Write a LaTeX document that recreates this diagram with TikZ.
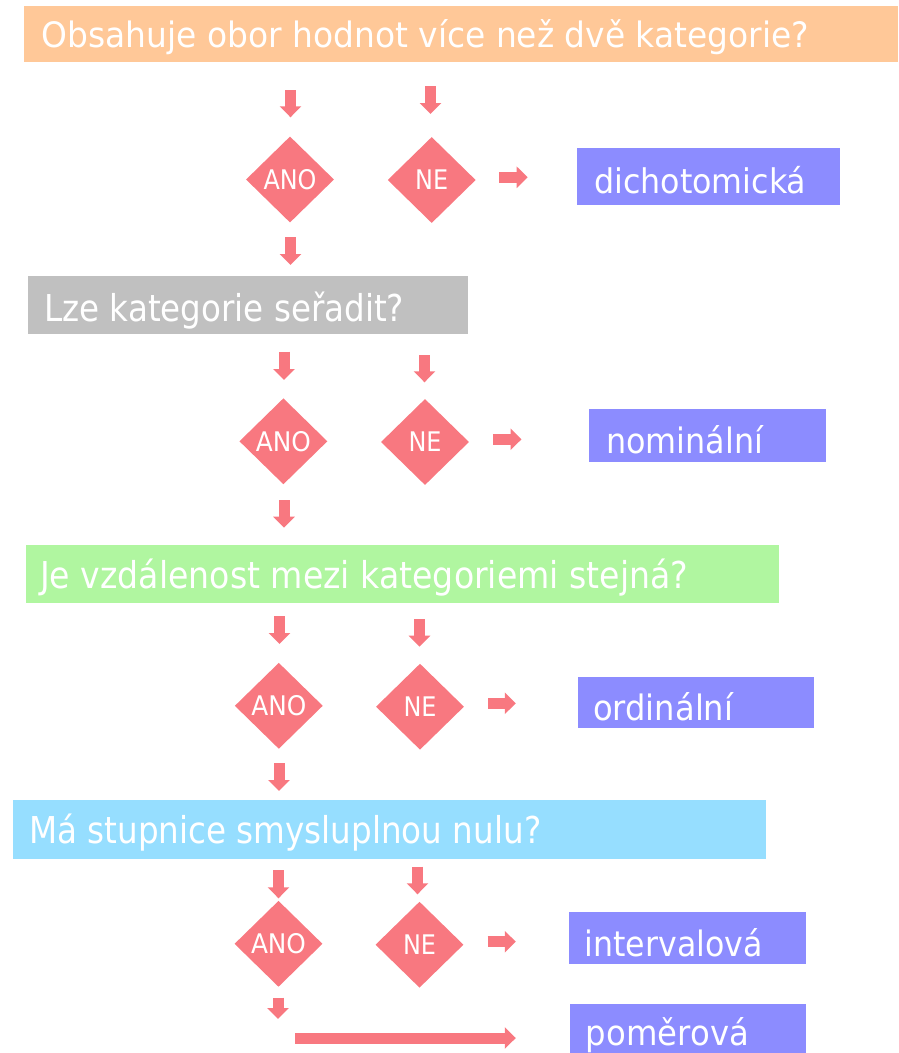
\documentclass[tikz,border=0pt]{standalone}
\usepackage{fontspec}
\setmainfont{DejaVu Sans}
\usepackage{graphicx}
\usetikzlibrary{shapes.geometric,arrows.meta}
\definecolor{qorange}{RGB}{255,200,152}
\definecolor{qgray}{RGB}{192,192,192}
\definecolor{qgreen}{RGB}{176,246,160}
\definecolor{qblue}{RGB}{150,222,255}
\definecolor{rpurple}{RGB}{140,140,255}
\definecolor{apink}{RGB}{248,120,128}
\newcommand{\fitw}[2]{\resizebox{#1pt}{\height}{#2}}
\tikzset{
  qbox/.style={rectangle, inner sep=0pt, draw=none},
  qtext/.style={anchor=base west, inner sep=0pt, text=white, font=\fontsize{37}{40}\selectfont},
  rtext/.style={anchor=base west, inner sep=0pt, text=white, font=\fontsize{35}{40}\selectfont},
  dec/.style={diamond, fill=apink, draw=none, inner sep=0pt, minimum width=88pt, minimum height=86pt, text=white, font=\fontsize{27}{30}\selectfont},
  barrow/.style={draw=apink, line width=11pt, -{Triangle[length=11pt,width=21pt]}}
}
\begin{document}
\begin{tikzpicture}[x=1pt,y=-1pt]
\useasboundingbox (0,0) rectangle (898,1053);
% ---------- Row 1
\node[qbox, fill=qorange, minimum width=873.7pt, minimum height=56pt] (q1) at (461.15,34) {};
\node[qtext, font=\fontsize{35}{40}\selectfont] (q1t) at (41.7,47.3) {\fitw{767}{Obsahuje obor hodnot více než dvě kategorie?}};
\node[dec] (a1) at (290,179.5) {\fitw{53}{ANO}};
\node[dec] (n1) at (431.7,180) {\fitw{33}{NE}};
\node[qbox, fill=rpurple, minimum width=263.3pt, minimum height=56.7pt] (r1) at (708.35,176.65) {};
\node[rtext, font=\fontsize{34}{40}\selectfont] (r1t) at (594,193.3) {\fitw{212}{dichotomická}};
\coordinate (a1s) at (290.5,90);   \coordinate (a1e) at (290.5,117.3);
\coordinate (n1s) at (430.5,86);   \coordinate (n1e) at (430.5,114);
\coordinate (r1s) at (499.3,177.3); \coordinate (r1e) at (527.7,177.3);
\coordinate (d1s) at (290.5,237.3); \coordinate (d1e) at (290.5,265);
\draw[barrow] (a1s) -- (a1e);
\draw[barrow] (n1s) -- (n1e);
\draw[barrow] (r1s) -- (r1e);
\draw[barrow] (d1s) -- (d1e);
% ---------- Row 2
\node[qbox, fill=qgray, minimum width=439.5pt, minimum height=58pt] (q2) at (247.85,305) {};
\node[qtext] (q2t) at (44,321) {\fitw{360}{Lze kategorie seřadit?}};
\node[dec] (a2) at (283.4,441.3) {\fitw{55}{ANO}};
\node[dec] (n2) at (425,442) {\fitw{33}{NE}};
\node[qbox, fill=rpurple, minimum width=236.7pt, minimum height=52.7pt] (r2) at (707.45,435.35) {};
\node[rtext] (r2t) at (606,453.3) {\fitw{157}{nominální}};
\coordinate (a2s) at (284,351.7);   \coordinate (a2e) at (284,380);
\coordinate (n2s) at (424.5,355);   \coordinate (n2e) at (424.5,382.3);
\coordinate (r2s) at (492.8,439.3); \coordinate (r2e) at (521.5,439.3);
\coordinate (d2s) at (284,500);     \coordinate (d2e) at (284,527.7);
\draw[barrow] (a2s) -- (a2e);
\draw[barrow] (n2s) -- (n2e);
\draw[barrow] (r2s) -- (r2e);
\draw[barrow] (d2s) -- (d2e);
% ---------- Row 3
\node[qbox, fill=qgreen, minimum width=753.4pt, minimum height=58.3pt] (q3) at (402.7,574.15) {};
\node[qtext] (q3t) at (40,588.3) {\fitw{648}{Je vzdálenost mezi kategoriemi stejná?}};
\node[dec] (a3) at (278.8,705.8) {\fitw{55}{ANO}};
\node[dec] (n3) at (420,706.7) {\fitw{33}{NE}};
\node[qbox, fill=rpurple, minimum width=236.1pt, minimum height=51.6pt] (r3) at (695.75,702.5) {};
\node[rtext] (r3t) at (593,720) {\fitw{140}{ordinální}};
\coordinate (a3s) at (279.5,616);   \coordinate (a3e) at (279.5,644);
\coordinate (n3s) at (419.5,619);   \coordinate (n3e) at (419.5,646.7);
\coordinate (r3s) at (488.3,703.3); \coordinate (r3e) at (515.8,703.3);
\coordinate (d3s) at (279,763.3);   \coordinate (d3e) at (279,791);
\draw[barrow] (a3s) -- (a3e);
\draw[barrow] (n3s) -- (n3e);
\draw[barrow] (r3s) -- (r3e);
\draw[barrow] (d3s) -- (d3e);
% ---------- Row 4
\node[qbox, fill=qblue, minimum width=753.6pt, minimum height=59.3pt] (q4) at (389.4,829.65) {};
\node[qtext] (q4t) at (29,843.3) {\fitw{512}{Má stupnice smysluplnou nulu?}};
\node[dec] (a4) at (278.5,943.8) {\fitw{55}{ANO}};
\node[dec] (n4) at (419.5,944.7) {\fitw{33}{NE}};
\node[qbox, fill=rpurple, minimum width=237.2pt, minimum height=52pt] (r4) at (687.1,938.3) {};
\node[rtext] (r4t) at (584.5,956) {\fitw{178}{intervalová}};
\node[qbox, fill=rpurple, minimum width=236.7pt, minimum height=49pt] (r5) at (687.95,1028.5) {};
\node[rtext] (r5t) at (585.7,1045) {\fitw{163}{poměrová}};
\coordinate (a4s) at (278.5,870);   \coordinate (a4e) at (278.5,898.3);
\coordinate (n4s) at (417.5,866.7); \coordinate (n4e) at (417.5,894.3);
\coordinate (r4s) at (487.7,941.7); \coordinate (r4e) at (515.8,941.7);
\coordinate (d4s) at (278,997.7);   \coordinate (d4e) at (278,1019);
\coordinate (l4s) at (295,1038);    \coordinate (l4e) at (515.8,1038);
\draw[barrow] (a4s) -- (a4e);
\draw[barrow] (n4s) -- (n4e);
\draw[barrow] (r4s) -- (r4e);
\draw[barrow] (d4s) -- (d4e);
\draw[barrow] (l4s) -- (l4e);
\end{tikzpicture}
\end{document}
